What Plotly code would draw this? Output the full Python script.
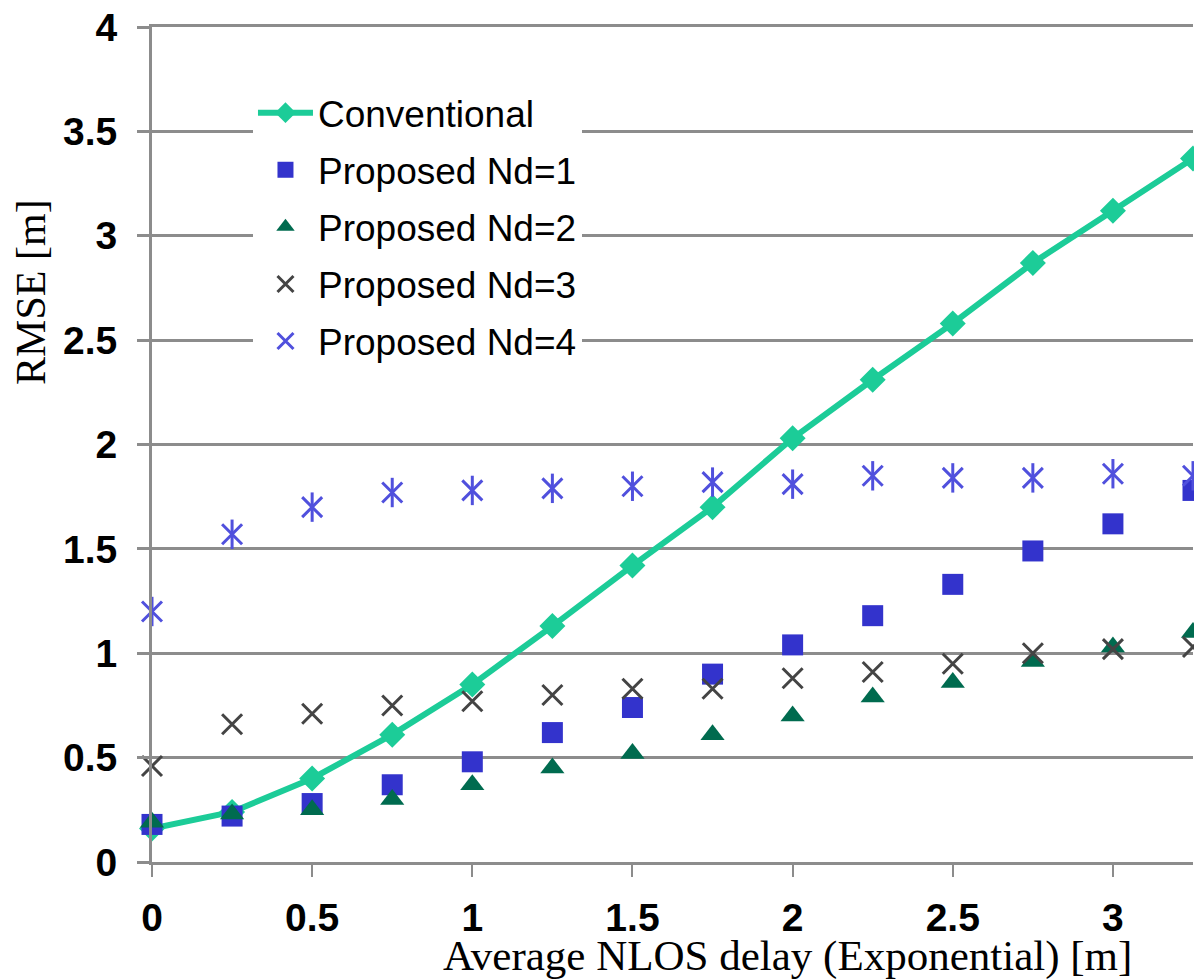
import plotly.graph_objects as go

# ------------------------------------------------------------------
# Data
# ------------------------------------------------------------------

delay = [0, 0.25, 0.5, 0.75, 1.0, 1.25, 1.5, 1.75, 2.0, 2.25, 2.5, 2.75, 3.0, 3.25]

rmse_conventional = [0.16, 0.24, 0.40, 0.61, 0.85, 1.13, 1.42, 1.70, 2.03, 2.31, 2.58, 2.87, 3.12, 3.37]
rmse_nd1 = [0.18, 0.22, 0.28, 0.37, 0.48, 0.62, 0.74, 0.90, 1.04, 1.18, 1.33, 1.49, 1.62, 1.78]
rmse_nd2 = [0.19, 0.23, 0.25, 0.30, 0.37, 0.45, 0.52, 0.61, 0.70, 0.79, 0.86, 0.96, 1.03, 1.10]
rmse_nd3 = [0.46, 0.66, 0.71, 0.75, 0.77, 0.80, 0.83, 0.83, 0.88, 0.91, 0.95, 1.00, 1.02, 1.03]
rmse_nd4 = [1.20, 1.57, 1.70, 1.77, 1.78, 1.79, 1.80, 1.82, 1.81, 1.85, 1.84, 1.84, 1.86, 1.85]

x_ticks = [0, 0.5, 1, 1.5, 2, 2.5, 3]
y_ticks = [0, 0.5, 1, 1.5, 2, 2.5, 3, 3.5, 4]

GRID = '#8c8c8c'
SANS = 'Liberation Sans, Arial, sans-serif'
SERIF = 'Liberation Serif, Times New Roman, serif'

fig = go.Figure()

fig.add_trace(go.Scatter(
    x=delay, y=rmse_conventional, name='Conventional',
    mode='lines+markers', legendgroup='conv',
    line=dict(color='#1ccc98', width=6),
    marker=dict(symbol='diamond', size=20, color='#1ccc98'),
    cliponaxis=False,
))
fig.add_trace(go.Scatter(
    x=delay, y=rmse_nd1, name='Proposed Nd=1',
    mode='markers', legendgroup='nd1',
    marker=dict(symbol='square', size=21, color='#3333cc'),
    cliponaxis=False,
))
fig.add_trace(go.Scatter(
    x=delay, y=rmse_nd2, name='Proposed Nd=2',
    mode='markers', legendgroup='nd2',
    marker=dict(symbol='triangle-up', size=21, color='#006b4f'),
    cliponaxis=False,
))
fig.add_trace(go.Scatter(
    x=delay, y=rmse_nd3, name='Proposed Nd=3',
    mode='markers', legendgroup='nd3',
    marker=dict(symbol='x-thin-open', size=20, color='#444444',
                line=dict(width=3)),
    cliponaxis=False,
))
fig.add_trace(go.Scatter(
    x=delay, y=rmse_nd4, name='Proposed Nd=4',
    mode='markers', legendgroup='nd4',
    marker=dict(symbol='x-thin-open', size=20, color='#5050dd',
                line=dict(width=3)),
    cliponaxis=False,
))
# vertical stroke of the asterisk
fig.add_trace(go.Scatter(
    x=delay, y=rmse_nd4, name='Proposed Nd=4',
    mode='markers', legendgroup='nd4', showlegend=False,
    marker=dict(symbol='line-ns-open', size=21, color='#5050dd',
                line=dict(width=3)),
    cliponaxis=False,
))

# page body adds an 8px offset, so margins are trimmed accordingly;
# the top "gridline" at 4 is the mirrored x axis line
fig.update_layout(
    width=1202, height=980,
    margin=dict(l=144, r=17, t=19, b=126),
    plot_bgcolor='white', paper_bgcolor='white',
    font=dict(family=SANS, color='black'),
    showlegend=True,
    legend=dict(
        x=0.097, y=0.934, xanchor='left', yanchor='top',
        bgcolor='white', borderwidth=0,
        font=dict(family=SANS, size=37, color='black'),
        tracegroupgap=6, itemwidth=55,
    ),
    xaxis=dict(
        range=[0, 3.25], tickvals=x_ticks, automargin=False,
        showgrid=False, zeroline=False,
        showline=True, mirror=True, linecolor=GRID, linewidth=3,
        ticks='outside', ticklen=12, tickwidth=2, tickcolor=GRID,
        ticklabelstandoff=7, ticklabeloverflow='allow',
        tickfont=dict(family=SANS, size=39, weight='bold', color='black'),
    ),
    yaxis=dict(
        range=[0, 4], tickvals=y_ticks, automargin=False,
        showgrid=True, gridcolor=GRID, gridwidth=3, zeroline=False,
        showline=True, linecolor=GRID, linewidth=3,
        ticks='outside', ticklen=12, tickwidth=3, tickcolor=GRID,
        ticklabelstandoff=12, ticklabeloverflow='allow',
        tickfont=dict(family=SANS, size=39, weight='bold', color='black'),
    ),
    annotations=[
        dict(text='Average NLOS delay (Exponential) [m]',
             xref='paper', yref='paper', x=0.61, y=-0.112,
             xanchor='center', yanchor='middle', showarrow=False,
             font=dict(family=SERIF, size=43, color='black')),
        dict(text='RMSE [m]', textangle=-90,
             xref='paper', yref='paper', x=-0.117, y=0.683,
             xanchor='center', yanchor='middle', showarrow=False,
             font=dict(family=SERIF, size=42, color='black')),
    ],
)

fig.write_html('out.html')
